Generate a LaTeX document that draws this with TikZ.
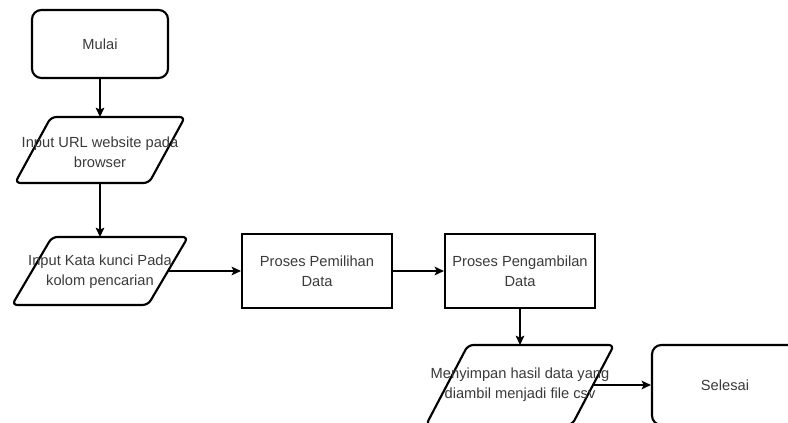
\documentclass[tikz,border=0pt]{standalone}
\usepackage{fontspec}
\setmainfont{Liberation Sans}
\usetikzlibrary{arrows.meta}
\definecolor{txt}{HTML}{3A3A3A}
\begin{document}
\begin{tikzpicture}[x=0.75pt,y=-0.75pt,
  shapeline/.style={draw=black, line width=1.6pt},
  lbl/.style={align=center, inner sep=0pt, font=\fontsize{11}{15}\selectfont, text=txt},
  procbox/.style={shapeline, lbl, minimum width=112.5pt, minimum height=55.5pt},
  termbox/.style={shapeline, lbl, rounded corners=7pt},
  conn/.style={draw=black, line width=1pt, -{Stealth[length=7pt,width=6.5pt,inset=1.5pt]}}
]
\useasboundingbox (0,0) rectangle (788,423);
\clip (0,0) rectangle (788,423);

% terminals and processes
\node[termbox, minimum width=102pt, minimum height=51pt] (mulai) at (100,44) {Mulai};
\node[procbox] (pilih) at (317,271) {Proses Pemilihan\\Data};
\node[procbox] (ambil) at (520,271) {Proses Pengambilan\\Data};
\node[termbox, minimum width=109.5pt, minimum height=60pt] (selesai) at (725,385) {Selesai};

% input/output parallelograms
\draw[shapeline, rounded corners=4pt] (51,117) -- (185,117) -- (149,183) -- (15,183) -- cycle;
\draw[shapeline, rounded corners=4pt] (52,237) -- (188,237) -- (148,305) -- (12,305) -- cycle;
\draw[shapeline, rounded corners=4pt] (468,345) -- (614,345) -- (572,425) -- (426,425) -- cycle;

\node[lbl] (url) at (100,152) {Input URL website pada\\browser};
\node[lbl] (kata) at (100,272) {Input Kata kunci Pada\\kolom pencarian};
\node[lbl] (simpan) at (520,385) {Menyimpan hasil data yang\\diambil menjadi file csv};

\coordinate (urlTop) at (100,117);
\coordinate (urlBot) at (100,183);
\coordinate (kataTop) at (100,237);
\coordinate (kataRight) at (168,271);
\coordinate (simpanTop) at (520,345);
\coordinate (simpanRight) at (593,385);

% connectors
\draw[conn] (mulai.south) -- (urlTop);
\draw[conn] (urlBot) -- (kataTop);
\draw[conn] (kataRight) -- (pilih.west);
\draw[conn] (pilih.east) -- (ambil.west);
\draw[conn] (ambil.south) -- (simpanTop);
\draw[conn] (simpanRight) -- (selesai.west);
\end{tikzpicture}
\end{document}
